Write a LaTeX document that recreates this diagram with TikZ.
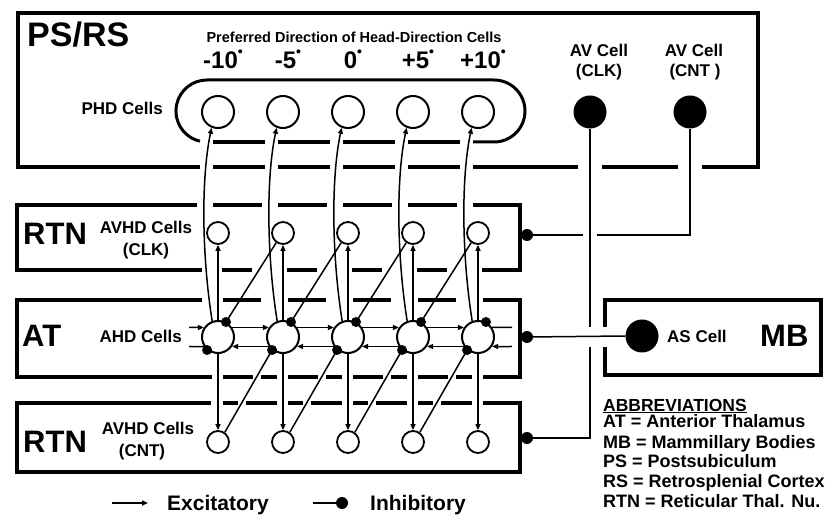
\documentclass[tikz,border=0pt]{standalone}
\usepackage{fontspec}
\setmainfont{Liberation Sans}
\usetikzlibrary{arrows.meta}
\newcommand\degdot{\raisebox{12.5pt}{\fontsize{14}{14}\selectfont •}}
\begin{document}
\begin{tikzpicture}[x=1pt,y=-1pt,
  boxedge/.style={line width=4pt},
  cellrow/.style={line width=3.5pt},
  conn/.style={line width=1.5pt},
  exc/.style={line width=1.5pt,-{Triangle[length=6pt,width=5pt]}},
  phdcell/.style={circle,draw,line width=2pt,minimum size=32pt,inner sep=0pt},
  atcell/.style={circle,draw,line width=2pt,minimum size=32pt,inner sep=0pt},
  rtncell/.style={circle,draw,line width=1.8pt,minimum size=22pt,inner sep=0pt},
  blkcell/.style={circle,fill=black,minimum size=33pt,inner sep=0pt},
  idot/.style={circle,fill=black,minimum size=10pt,inner sep=0pt},
  bdot/.style={circle,fill=black,minimum size=12pt,inner sep=0pt},
  lbl/.style={inner sep=0pt,font=\fontsize{17}{17}\selectfont\bfseries},
  biglbl/.style={inner sep=0pt,font=\fontsize{31}{31}\selectfont\bfseries},
  deglbl/.style={inner sep=0pt,font=\fontsize{24}{24}\selectfont\bfseries},
  leglbl/.style={inner sep=0pt,font=\fontsize{21}{21}\selectfont\bfseries},
  abbrlbl/.style={inner sep=0pt,font=\fontsize{18}{18}\selectfont\bfseries,anchor=base west}
]
\fill[white] (0,0) rectangle (825,529);
\useasboundingbox (0,0) rectangle (825,529);

% ---------- PS/RS box ----------
\draw[boxedge] (200,167) -- (18,167) -- (18,13) -- (758,13) -- (758,167) -- (702,167);
\foreach \a/\b in {213/265,278/330,343/395,408/460,473/578,602/678}
  \draw[boxedge] (\a,167) -- (\b,167);
% stadium round PHD cells
\draw[line width=3pt] (200,141.2) arc[start angle=103,end angle=270,radius=31]
  -- (494,80) arc[start angle=270,end angle=450,radius=31] -- (473,142);
\foreach \a/\b in {213/265,278/330,343/395,408/460}
  \draw[cellrow] (\a,142) -- (\b,142);

% ---------- RTN (CLK) box ----------
\draw[boxedge] (197,205) -- (17,205) -- (17,270) -- (202,270);
\draw[boxedge] (473,205) -- (520,205) -- (520,270) -- (482,270);
\foreach \a/\b in {213/262,278/327,343/392,408/457}
  \draw[boxedge] (\a,205) -- (\b,205);
\foreach \a/\b in {222/252,287/317,352/382,417/447}
  \draw[boxedge] (\a,270) -- (\b,270);

% ---------- AT box ----------
\draw[boxedge] (202,300) -- (17,300) -- (17,377) -- (212,377);
\draw[boxedge] (483,300) -- (520,300) -- (520,377) -- (483,377);
\foreach \a/\b in {223/261,288/326,353/391,418/456}
  \draw[boxedge] (\a,300) -- (\b,300);
\foreach \a/\b in {223/253,261/277,288/318,326/342,353/383,391/407,418/448,456/472}
  \draw[boxedge] (\a,377) -- (\b,377);

% ---------- RTN (CNT) box ----------
\draw[boxedge] (211,403) -- (17,403) -- (17,472) -- (520,472) -- (520,403) -- (483,403);
\foreach \a/\b in {223/238,246/277,288/303,311/342,353/368,376/407,418/433,441/472}
  \draw[boxedge] (\a,403) -- (\b,403);

% ---------- MB box ----------
\draw[boxedge] (605,327) -- (605,300) -- (821,300) -- (821,375) -- (605,375) -- (605,347);

% ---------- cells ----------
\foreach \i/\x in {1/218,2/283,3/348,4/413,5/478} {
  \node[phdcell] (p\i) at (\x,112) {};
  \node[rtncell] (c\i) at (\x,233) {};
  \node[atcell]  (a\i) at (\x,337) {};
  \node[rtncell] (n\i) at (\x,442) {};
}
\node[blkcell] (avclk) at (590,112) {};
\node[blkcell] (avcnt) at (690,112) {};
\node[blkcell] (ascell) at (642,336) {};

% ---------- connections ----------
\foreach \i in {1,...,5} {
  \draw[exc] (a\i.north) -- (c\i.south);
  \draw[exc] (a\i.south) -- (n\i.north);
  \draw[exc] (a\i.110) .. controls +(-10,-62) and +(-11,52) .. (p\i.248);
}
\foreach \i/\j in {1/2,2/3,3/4,4/5} {
  \draw[conn] (c\j.235) -- (a\i.62);
  \node[idot] (iu\i) at (a\i.62) {};
  \draw[conn] (n\i.55) -- (a\j.230);
  \node[idot] (il\j) at (a\j.230) {};
  \draw[exc] (a\i.34) -- (a\j.146);
  \draw[exc] (a\j.214) -- (a\i.326);
}
\node[idot] (iu5) at (a5.62) {};
\node[idot] (il1) at (a1.230) {};
\coordinate (lin) at (189,327.5);
\coordinate (lout) at (189,346.5);
\coordinate (rout) at (512,327.5);
\coordinate (rin) at (512,346.5);
\draw[exc] (lin) -- (a1.146);
\draw[conn] (a1.214) -- (lout);
\draw[conn] (a5.34) -- (rout);
\draw[exc] (rin) -- (a5.326);

% outputs of boxes
\node[bdot] (dclk) at (527,235) {};
\node[bdot] (dat)  at (527,337) {};
\node[bdot] (dcnt) at (527,438) {};
\coordinate (g1) at (583,235);
\coordinate (g2) at (597,235);
\coordinate (k1) at (690,235);
\coordinate (v1) at (590,327);
\coordinate (v2) at (590,347);
\coordinate (k2) at (590,438);
\draw[conn] (dclk) -- (g1);
\draw[conn] (g2) -- (k1) -- (avcnt.south);
\draw[conn] (avclk.south) -- (v1);
\draw[conn] (v2) -- (k2) -- (dcnt);
\draw[conn] (dat) -- (ascell.west);

% ---------- labels ----------
\node[inner sep=0pt,font=\fontsize{34}{34}\selectfont\bfseries,anchor=base west] (tps) at (27,47) {PS/RS};
\node[inner sep=0pt,font=\fontsize{14.5}{15}\selectfont\bfseries,anchor=base] (tpref) at (354,43) {Preferred Direction of Head-Direction Cells};
\foreach \i/\x/\t in {1/218/-10,2/283/-5,3/348/0,4/413/+5,5/478/+10}
  \node[deglbl,anchor=base] (dg\i) at (\x+5,69) {\t\degdot};
\node[lbl,anchor=base east] (tphd) at (163,115) {PHD Cells};
\node[lbl,anchor=base] (tav1) at (599,57) {AV Cell};
\node[lbl,anchor=base] (tav1b) at (599,77) {(CLK)};
\node[lbl,anchor=base] (tav2) at (694,57) {AV Cell};
\node[lbl,anchor=base] (tav2b) at (695,77) {(CNT )};

\node[biglbl,anchor=base west] (trtn1) at (23,245) {RTN};
\node[inner sep=0pt,font=\fontsize{17}{22}\selectfont\bfseries,align=center,anchor=north] (tavhd1) at (146,220.5) {AVHD Cells\\(CLK)};
\node[biglbl,anchor=base west] (tat) at (22,347) {AT};
\node[lbl,anchor=base east] (tahd) at (182,343) {AHD Cells};
\node[biglbl,anchor=base west] (trtn2) at (23,452) {RTN};
\node[lbl,anchor=base] (tavhd2) at (148,434) {AVHD Cells};
\node[lbl,anchor=base] (tavhd2b) at (142,456) {(CNT)};
\node[lbl,anchor=base west] (tas) at (667,343) {AS Cell};
\node[biglbl,anchor=base west] (tmb) at (760,347) {MB};

% legend
\coordinate (le1) at (112,503);
\coordinate (le2) at (148,503);
\draw[exc] (le1) -- (le2);
\node[leglbl,anchor=base west] (texc) at (167,510) {Excitatory};
\coordinate (li1) at (313,503);
\node[idot,minimum size=12pt] (li2) at (342,503) {};
\draw[conn] (li1) -- (li2);
\node[leglbl,anchor=base west] (tinh) at (370,510) {Inhibitory};

% abbreviations
\node[inner sep=0pt,font=\fontsize{17.5}{18}\selectfont\bfseries,anchor=base west] (tabbr) at (603,411) {\underline{ABBREVIATIONS}};
\node[abbrlbl] (ab1) at (603,428) {AT = Anterior Thalamus};
\node[abbrlbl] (ab2) at (603,448) {MB = Mammillary Bodies};
\node[abbrlbl] (ab3) at (603,467) {PS = Postsubiculum};
\node[abbrlbl] (ab4) at (603,487) {RS = Retrosplenial Cortex};
\node[abbrlbl] (ab5) at (603,507) {RTN = Reticular Thal. Nu.};
\end{tikzpicture}
\end{document}
